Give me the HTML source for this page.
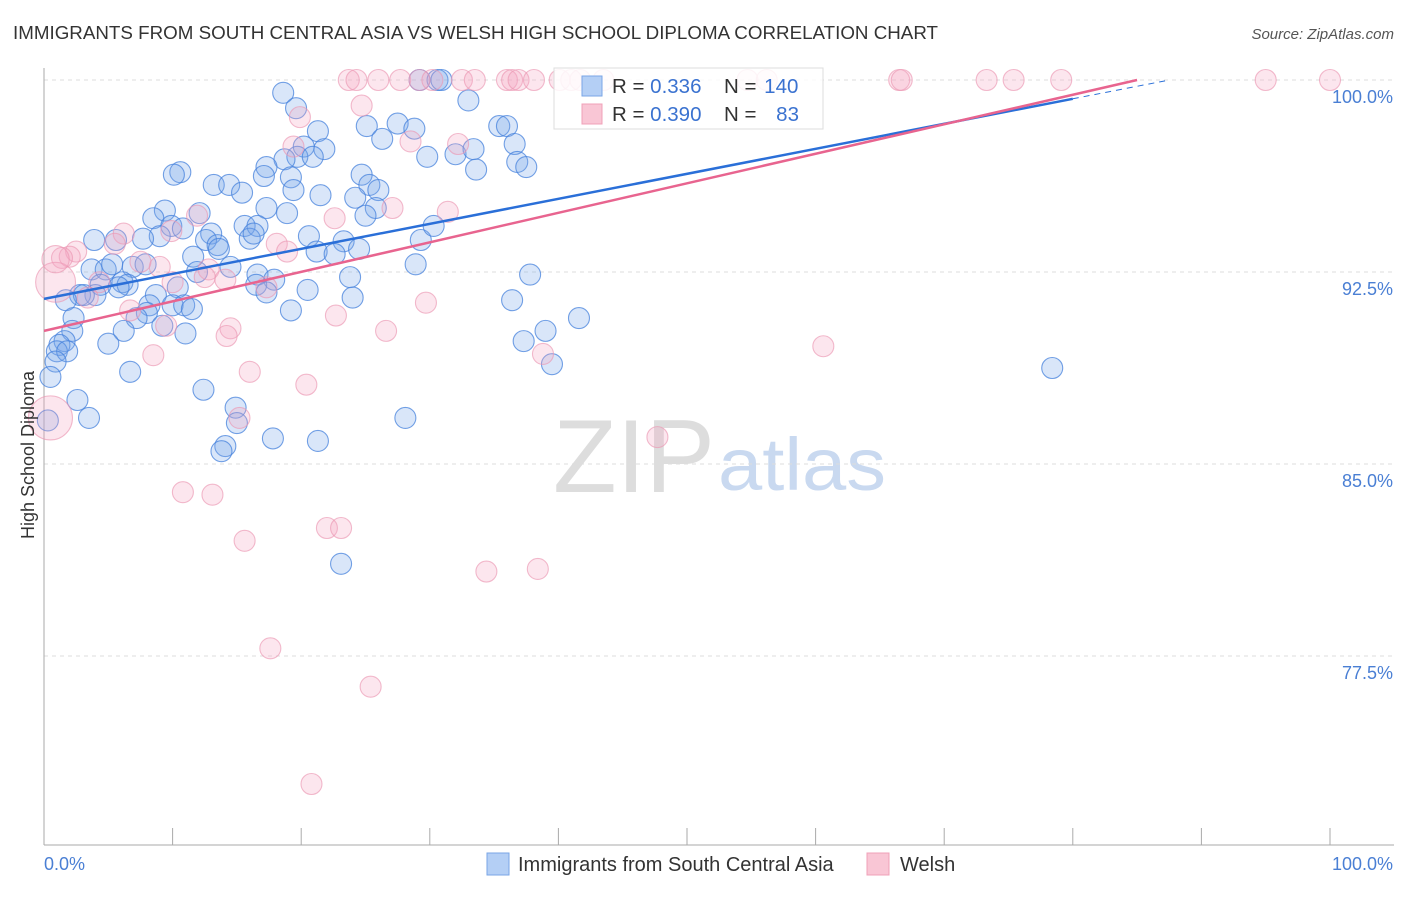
<!DOCTYPE html>
<html><head><meta charset="utf-8"><style>
body{margin:0;background:#fff;font-family:"Liberation Sans",sans-serif}
svg text{font-family:"Liberation Sans",sans-serif}
</style></head><body>
<svg id="chart" width="1406" height="892" xmlns="http://www.w3.org/2000/svg">
<text x="13" y="39" font-size="18" fill="#333" textLength="925" lengthAdjust="spacingAndGlyphs">IMMIGRANTS FROM SOUTH CENTRAL ASIA VS WELSH HIGH SCHOOL DIPLOMA CORRELATION CHART</text>
<text x="1394" y="39" font-size="15" fill="#555" font-style="italic" text-anchor="end">Source: ZipAtlas.com</text>
<g>
<text x="553" y="492" font-size="104" fill="#ddd" font-family="Liberation Serif, serif" textLength="162" lengthAdjust="spacingAndGlyphs">ZIP</text>
<text x="718" y="490" font-size="74" fill="#c9d9f0" textLength="168" lengthAdjust="spacingAndGlyphs">atlas</text>
</g>
<g id="grid"></g>
<g id="axes"></g>
<g id="pts"></g>
<g id="lines"></g>
<text transform="translate(34,455) rotate(-90)" font-size="18" fill="#333" text-anchor="middle">High School Diploma</text>
<text x="44" y="870" font-size="18" fill="#4a7fd4">0.0%</text>
<text x="1393" y="870" font-size="18" fill="#4a7fd4" text-anchor="end">100.0%</text>
<g>
<rect x="554" y="68" width="269" height="61" fill="#fff" fill-opacity="0.85" stroke="#ddd"/>
<rect x="582" y="76" width="20" height="20" fill="#b4cff5" stroke="#7aa6e6"/>
<rect x="582" y="104" width="20" height="20" fill="#f9c6d5" stroke="#f0a0b8"/>
<text x="612" y="93" font-size="20.5" fill="#333">R = <tspan fill="#3a72d0">0.336</tspan></text>
<text x="724" y="93" font-size="20.5" fill="#333">N = <tspan fill="#3a72d0" dx="2">140</tspan></text>
<text x="612" y="121" font-size="20.5" fill="#333">R = <tspan fill="#3a72d0">0.390</tspan></text>
<text x="724" y="121" font-size="20.5" fill="#333">N = <tspan fill="#3a72d0" dx="14">83</tspan></text>
</g>
<g>
<rect x="487" y="853" width="22" height="22" fill="#b4cff5" stroke="#7aa6e6"/>
<text x="518" y="871" font-size="20" fill="#333">Immigrants from South Central Asia</text>
<rect x="867" y="853" width="22" height="22" fill="#f9c6d5" stroke="#f0a0b8"/>
<text x="900" y="871" font-size="20" fill="#333">Welsh</text>
</g>
</svg>
<script>
const yTicks=[100,92.5,85,77.5];
const yTickLabels=["100.0%","92.5%","85.0%","77.5%"];
const blueX=[18.6,19.6,33.0,21.3,25.1,27.5,28.8,35.4,36.0,36.6,21.8,20.2,19.7,18.7,20.9,26.3,29.8,32.0,33.4,36.8,37.5,33.6,10.6,10.1,17.3,19.2,17.1,24.7,25.3,26.0,21.5,19.4,13.2,14.4,15.4,24.2,9.4,8.5,12.1,17.3,18.9,25.8,25.0,15.6,16.6,9.9,10.8,9.0,7.7,5.6,3.9,13.0,12.6,13.5,13.6,16.0,16.3,20.6,21.2,23.3,24.5,22.6,29.3,30.3,28.9,23.8,37.8,3.7,4.8,5.3,6.9,7.9,11.6,11.9,14.5,16.6,17.9,16.5,17.3,20.5,24.0,19.2,36.4,41.6,39.0,37.3,39.5,78.4,6.1,6.5,5.8,4.4,4.0,2.8,3.1,1.7,2.3,8.7,10.4,10.0,10.9,8.2,8.0,7.2,6.2,9.2,11.0,11.5,2.2,5.0,1.6,1.2,1.0,1.8,0.9,0.5,0.3,2.6,3.5,6.7,12.4,14.9,15.0,14.1,13.8,17.8,21.3,28.1,23.1,29.2,30.6,30.9];
const blueY=[99.5,98.9,99.2,98.0,98.2,98.3,98.1,98.2,98.2,97.5,97.3,97.4,97.0,96.9,97.0,97.7,97.0,97.1,97.3,96.8,96.6,96.5,96.4,96.3,96.6,96.2,96.25,96.3,95.9,95.7,95.5,95.7,95.9,95.9,95.6,95.4,94.9,94.6,94.8,95.0,94.8,95.0,94.7,94.3,94.3,94.3,94.2,93.9,93.8,93.75,93.75,94.0,93.75,93.55,93.4,93.8,94.0,93.9,93.3,93.7,93.4,93.2,93.75,94.3,92.8,92.3,92.4,92.6,92.6,92.8,92.7,92.8,93.1,92.5,92.7,92.4,92.2,92.0,91.7,91.8,91.5,91.0,91.4,90.7,90.2,89.8,88.9,88.75,92.1,92.0,91.9,92.0,91.6,91.6,91.6,91.4,90.7,91.6,91.9,91.2,91.2,91.2,90.9,90.7,90.2,90.4,90.1,91.05,90.2,89.7,89.8,89.65,89.4,89.4,89.0,88.4,86.7,87.5,86.8,88.6,87.9,87.2,86.6,85.7,85.5,86.0,85.9,86.8,81.1,100,100,100];
const pinkX=[23.7,24.3,26.0,27.7,29.2,30.2,32.5,33.5,36.0,36.4,36.9,38.1,40.1,41.0,41.7,43.5,54.7,56.2,66.5,66.7,73.3,75.4,79.1,95.0,100.0,24.7,19.9,19.4,28.5,32.2,22.6,27.1,31.4,11.9,9.9,6.2,5.5,2.5,2.0,1.4,18.1,18.9,9.0,12.8,7.5,14.1,12.5,10.0,4.3,3.4,17.3,22.7,26.6,29.7,14.5,14.2,9.5,6.7,8.5,16.0,20.4,38.8,60.6,15.2,47.7,10.8,13.1,15.6,22.0,23.1,34.4,38.4,17.6,25.4,20.8,0.9,0.5,0.9];
const pinkY=[100,100,100,100,100,100,100,100,100,100,100,100,100,100,100,100,100,100,100,100,100,100,100,100,100,99.0,98.55,97.4,97.6,97.5,94.6,95.0,94.85,94.7,94.1,94.0,93.6,93.3,93.1,93.05,93.6,93.3,92.7,92.6,92.9,92.2,92.3,92.1,92.1,91.5,91.9,90.8,90.2,91.3,90.3,90.0,90.4,91.0,89.25,88.6,88.1,89.3,89.6,86.8,86.05,83.9,83.8,82.0,82.5,82.5,80.8,80.9,77.8,76.3,72.5,92.1,86.8,93.0];
const pinkSize=[1,1,1,1,1,1,1,1,1,1,1,1,1,1,1,1,1,1,1,1,1,1,1,1,1,1,1,1,1,1,1,1,1,1,1,1,1,1,1,1,1,1,1,1,1,1,1,1,1,1,1,1,1,1,1,1,1,1,1,1,1,1,1,1,1,1,1,1,1,1,1,1,1,1,1,1.9,2.1,1.3];
const blueTrend=[91.45,0.0977];
const pinkTrend=[90.2,0.1153];
const NS="http://www.w3.org/2000/svg";
const X0=44,X1=1330,Y100=80,PX_PER=25.6;
function sx(v){return X0+(X1-X0)*v/100;}
function sy(v){return Y100+(100-v)*PX_PER;}
function mk(tag,attrs,parent){const e=document.createElementNS(NS,tag);for(const k in attrs)e.setAttribute(k,attrs[k]);parent.appendChild(e);return e;}
const grid=document.getElementById('grid'),axes=document.getElementById('axes'),pts=document.getElementById('pts'),lines=document.getElementById('lines');
yTicks.forEach((t,i)=>{
 const l=mk('line',{x1:X0,x2:1394,y1:sy(t),y2:sy(t),stroke:'#ddd','stroke-dasharray':'4,4'},grid);
 
 
 const tx=mk('text',{x:1393,y:sy(t)+23,'font-size':18,fill:'#4a7fd4','text-anchor':'end'},axes);
 tx.textContent=yTickLabels[i];
 
 
});
const ya=mk('line',{x1:X0,x2:X0,y1:68,y2:845,stroke:'#aaa'},axes);


const xa=mk('line',{x1:X0,x2:1394,y1:845,y2:845,stroke:'#aaa'},axes);


for(let i=0;i<=10;i++){
 const tk=mk('line',{x1:sx(i*10),x2:sx(i*10),y1:828,y2:845,stroke:'#aaa'},axes);
 
 
}
blueX.forEach((x,i)=>{
 const c=mk('circle',{cx:sx(x),cy:sy(blueY[i]),r:10.5,fill:'rgba(120,165,235,0.28)',stroke:'rgba(70,130,220,0.75)','stroke-width':1.1},pts);
 
 
});
pinkX.forEach((x,i)=>{
 const c=mk('circle',{cx:sx(x),cy:sy(pinkY[i]),r:10.5*pinkSize[i],fill:'rgba(245,165,195,0.28)',stroke:'rgba(235,150,178,0.65)','stroke-width':1.1},pts);
 
 
});
function ty(t,x){return t[0]+t[1]*x;}
const bEnd=80,bDash=(100-blueTrend[0])/blueTrend[1];
const bl=mk('line',{x1:sx(0),y1:sy(ty(blueTrend,0)),x2:sx(bEnd),y2:sy(ty(blueTrend,bEnd)),stroke:'#2a6fd8','stroke-width':2.5},lines);


const bd=mk('line',{x1:sx(bEnd),y1:sy(ty(blueTrend,bEnd)),x2:sx(bDash),y2:sy(100),stroke:'#2a6fd8','stroke-width':1,'stroke-dasharray':'6,5'},lines);


const pEnd=(100-pinkTrend[0])/pinkTrend[1];
const pl=mk('line',{x1:sx(0),y1:sy(ty(pinkTrend,0)),x2:sx(pEnd),y2:sy(100),stroke:'#e8648f','stroke-width':2.5},lines);


</script>
</body></html>
